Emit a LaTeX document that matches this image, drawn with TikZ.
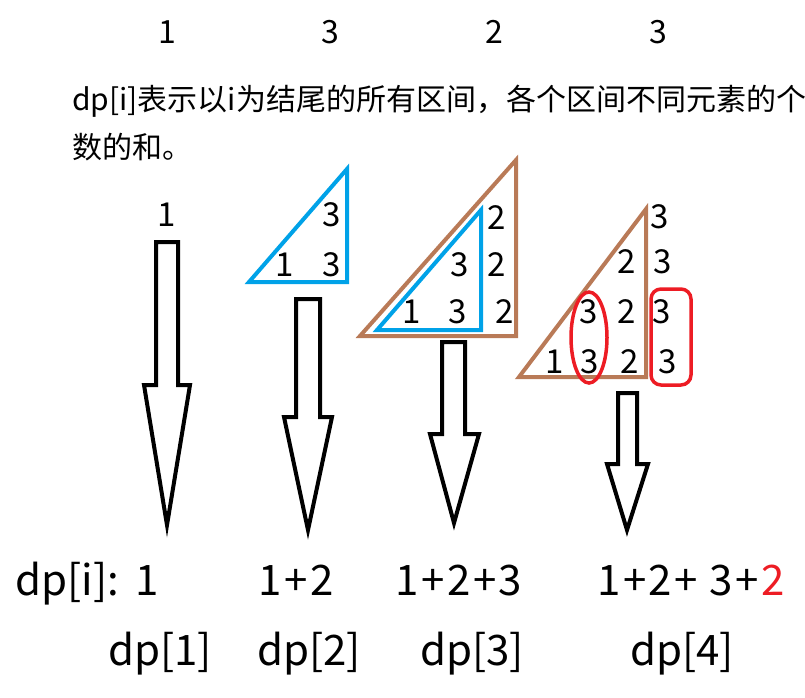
\documentclass[tikz,border=0pt]{standalone}
\usepackage{fontspec}
\setmainfont{Noto Sans CJK SC}
\definecolor{pblue}{HTML}{00A2E8}
\definecolor{pbrown}{HTML}{B97A57}
\definecolor{pred}{HTML}{ED1C24}
\newcommand{\pl}{\kern2.5pt+\kern2.5pt}
\begin{document}
\begin{tikzpicture}[x=1pt,y=-1pt,
  num/.style={inner sep=0pt, font=\fontsize{33}{33}\selectfont},
  topnum/.style={inner sep=0pt, anchor=base, font=\fontsize{32}{32}\selectfont},
  txt/.style={inner sep=0pt, anchor=base west, font=\fontsize{30}{30}\selectfont},
  big/.style={inner sep=0pt, anchor=base, font=\fontsize{42}{42}\selectfont},
  arrowshape/.style={draw=black, line width=4pt},
  tri/.style={line width=4pt},
  redmark/.style={draw=pred, line width=3.5pt}]
\useasboundingbox (0,0) rectangle (805,697);
% top numbers
\node[topnum] (t1) at (167,43) {1};
\node[topnum] (t2) at (330,43) {3};
\node[topnum] (t3) at (494,43) {2};
\node[topnum] (t4) at (658,43) {3};
% description
\node[txt] (l1) at (72,110) {dp[i]表示以i为结尾的所有区间，各个区间不同元素的个};
\node[txt] (l2) at (72,158) {数的和。};
% column 1
\node[num] (a11) at (167,215) {1};
% column 2 triangle
\draw[pblue,tri] (249,282) -- (347,282) -- (347,169) -- cycle;
\node[num] (b13) at (332,215) {3};
\node[num] (b21) at (285,265) {1};
\node[num] (b23) at (332,265) {3};
% column 3 triangles
\draw[pbrown,tri] (360,336) -- (516,336) -- (516,160) -- cycle;
\draw[pblue,tri] (377,330) -- (481,330) -- (481,210) -- cycle;
\node[num] (c12) at (497,218) {2};
\node[num] (c23) at (460,265) {3};
\node[num] (c22) at (497,265) {2};
\node[num] (c31) at (412,312) {1};
\node[num] (c33) at (458,312) {3};
\node[num] (c32) at (505,312) {2};
% column 4 triangle
\draw[pbrown,tri] (519,377) -- (646,377) -- (646,209) -- cycle;
\node[num] (d13) at (660,217) {3};
\node[num] (d22) at (627,262) {2};
\node[num] (d23) at (663,262) {3};
\node[num] (d33) at (589,312) {3};
\node[num] (d32) at (627,312) {2};
\node[num] (d3b) at (662,312) {3};
\node[num] (d41) at (555,362) {1};
\node[num] (d43) at (590,362) {3};
\node[num] (d42) at (630,362) {2};
\node[num] (d4b) at (668,362) {3};
\draw[redmark] (589,337.5) ellipse [x radius=18, y radius=45.5];
\draw[redmark, rounded corners=10pt] (651,289) rectangle (691,385);
% arrows
\draw[arrowshape] (156,242) -- (178,242) -- (178,385) -- (190,385) -- (167,525) -- (144,385) -- (156,385) -- cycle;
\draw[arrowshape] (296,299) -- (320,299) -- (320,417) -- (332,417) -- (308,530) -- (284,417) -- (296,417) -- cycle;
\draw[arrowshape] (442,342) -- (465,342) -- (465,434) -- (479,434) -- (454,523) -- (430,434) -- (442,434) -- cycle;
\draw[arrowshape] (618,393) -- (637,393) -- (637,464) -- (648,464) -- (627,530) -- (607,464) -- (618,464) -- cycle;
% sums
\node[big, anchor=base west] (dpi) at (15,595) {dp[i]:};
\node[big] (s1) at (147,595) {1};
\node[big] (s2) at (296,595) {1\pl2};
\node[big] (s3) at (459,595) {1\pl2\pl3};
\node[big] (s4) at (691,595) {1\pl2\pl\ 3\pl\textcolor{pred}{2}};
\node[big] (n1) at (160,665) {dp[1]};
\node[big] (n2) at (309,665) {dp[2]};
\node[big] (n3) at (472,665) {dp[3]};
\node[big] (n4) at (682,665) {dp[4]};
\end{tikzpicture}
\end{document}
